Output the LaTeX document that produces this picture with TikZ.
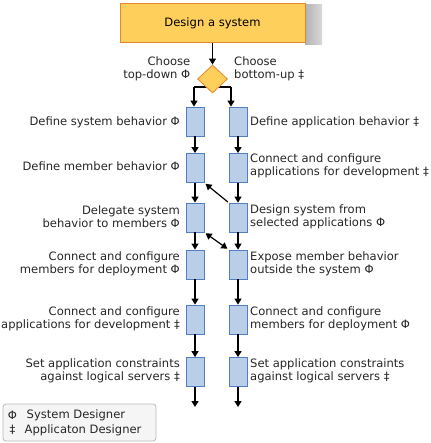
\documentclass[tikz,border=0pt]{standalone}
\usepackage{fontspec}
\setmainfont{DejaVu Sans}
\usetikzlibrary{arrows.meta,shapes.geometric}
\definecolor{yfill}{RGB}{255,207,92}
\definecolor{ydraw}{RGB}{228,135,45}
\definecolor{bfill}{RGB}{185,207,231}
\definecolor{bdraw}{RGB}{84,126,196}
\definecolor{legfill}{RGB}{245,245,245}
\definecolor{legdraw}{RGB}{185,185,185}
\begin{document}
\begin{tikzpicture}[x=1pt,y=-1pt,
  font=\fontsize{11.55}{13.3}\selectfont,
  topbox/.style={draw=ydraw, fill=yfill, line width=1pt, minimum width=185pt, minimum height=39pt, inner sep=0pt},
  choice/.style={diamond, draw=ydraw, fill=yfill, line width=0.8pt, minimum width=30pt, minimum height=28pt, inner sep=0pt},
  stepbox/.style={draw=bdraw, fill=bfill, line width=0.8pt, minimum width=18pt, minimum height=29pt, inner sep=0pt},
  lbl/.style={inner sep=0pt, text=black!85},
  arr/.style={-{Triangle[length=6pt,width=7pt]}, line width=1.2pt},
  darr/.style={{Triangle[length=6pt,width=7pt]}-{Triangle[length=6pt,width=7pt]}, line width=1.2pt},
  ln/.style={line width=1.2pt}
]
\useasboundingbox (0,0) rectangle (430,443);

% shadow of top box
\shade[left color=gray!60, middle color=white, right color=gray!30] (305,5) rectangle (322,45);
\node[topbox] (top) at (212.5,23.5) {Design a system};

% branch line behind diamond
\coordinate (dl) at (194,87);
\coordinate (dr) at (231,87);
\draw[ln] (dl) -- (dr);
\node[choice] (dia) at (212.5,79) {};
\draw[arr] (top) -- (dia);

\node[lbl, anchor=east, align=right] (chl) at (190.5,69) {Choose\\top-down Φ};
\node[lbl, anchor=west, align=left] (chr) at (234,69) {Choose\\bottom-up ‡};

% boxes
\foreach \n/\y in {1/121.5, 2/168, 3/217.5, 4/264.5, 5/319.5, 6/372}{
  \node[stepbox] (l\n) at (195,\y) {};
  \node[stepbox] (r\n) at (238,\y) {};
}

% labels left
\node[lbl, anchor=east, align=right] at (180,122.5) {Define system behavior Φ};
\node[lbl, anchor=east, align=right] at (180,166.5) {Define member behavior Φ};
\node[lbl, anchor=east, align=right] at (180,217) {Delegate system\\behavior to members Φ};
\node[lbl, anchor=east, align=right] at (180,264) {Connect and configure\\members for deployment Φ};
\node[lbl, anchor=east, align=right] at (180,318.5) {Connect and configure\\applications for development ‡};
\node[lbl, anchor=east, align=right] at (180,371) {Set application constraints\\against logical servers ‡};

% labels right
\node[lbl, anchor=west, align=left] at (250,122.5) {Define application behavior ‡};
\node[lbl, anchor=west, align=left] at (250,166) {Connect and configure\\applications for development ‡};
\node[lbl, anchor=west, align=left] at (250,217) {Design system from\\selected applications Φ};
\node[lbl, anchor=west, align=left] at (250,264) {Expose member behavior\\outside the system Φ};
\node[lbl, anchor=west, align=left] at (250,318.5) {Connect and configure\\members for deployment Φ};
\node[lbl, anchor=west, align=left] at (250,371) {Set application constraints\\against logical servers ‡};

% arrows from diamond
\draw[arr] (dl) -- (dl |- l1.north);
\draw[arr] (dr) -- (dr |- r1.north);

% column arrows
\foreach \a/\b in {1/2,2/3,3/4,4/5,5/6}{
  \draw[arr] (l\a) -- (l\b);
  \draw[arr] (r\a) -- (r\b);
}
\coordinate (lend) at (195,407);
\coordinate (rend) at (238,407);
\draw[arr] (l6) -- (lend);
\draw[arr] (r6) -- (rend);

% cross arrows
\draw[arr, shorten <=1pt, shorten >=1.5pt] (r3.north west) -- (l2.south east);
\draw[darr, shorten <=1.5pt, shorten >=1.5pt] (l3.south east) -- (r4.north west);

% legend
\node[draw=legdraw, fill=legfill, rounded corners=3pt, minimum width=153pt, minimum height=37pt, inner sep=0pt, line width=0.8pt] (legend) at (79.5,422.5) {};
\node[lbl] (s1) at (12.5,415) {Φ};
\node[lbl] (s2) at (12.5,430) {‡};
\node[lbl, anchor=west] (t1) at (26.5,415) {System Designer};
\node[lbl, anchor=west] (t2) at (24.5,430) {Applicaton Designer};
\end{tikzpicture}
\end{document}
